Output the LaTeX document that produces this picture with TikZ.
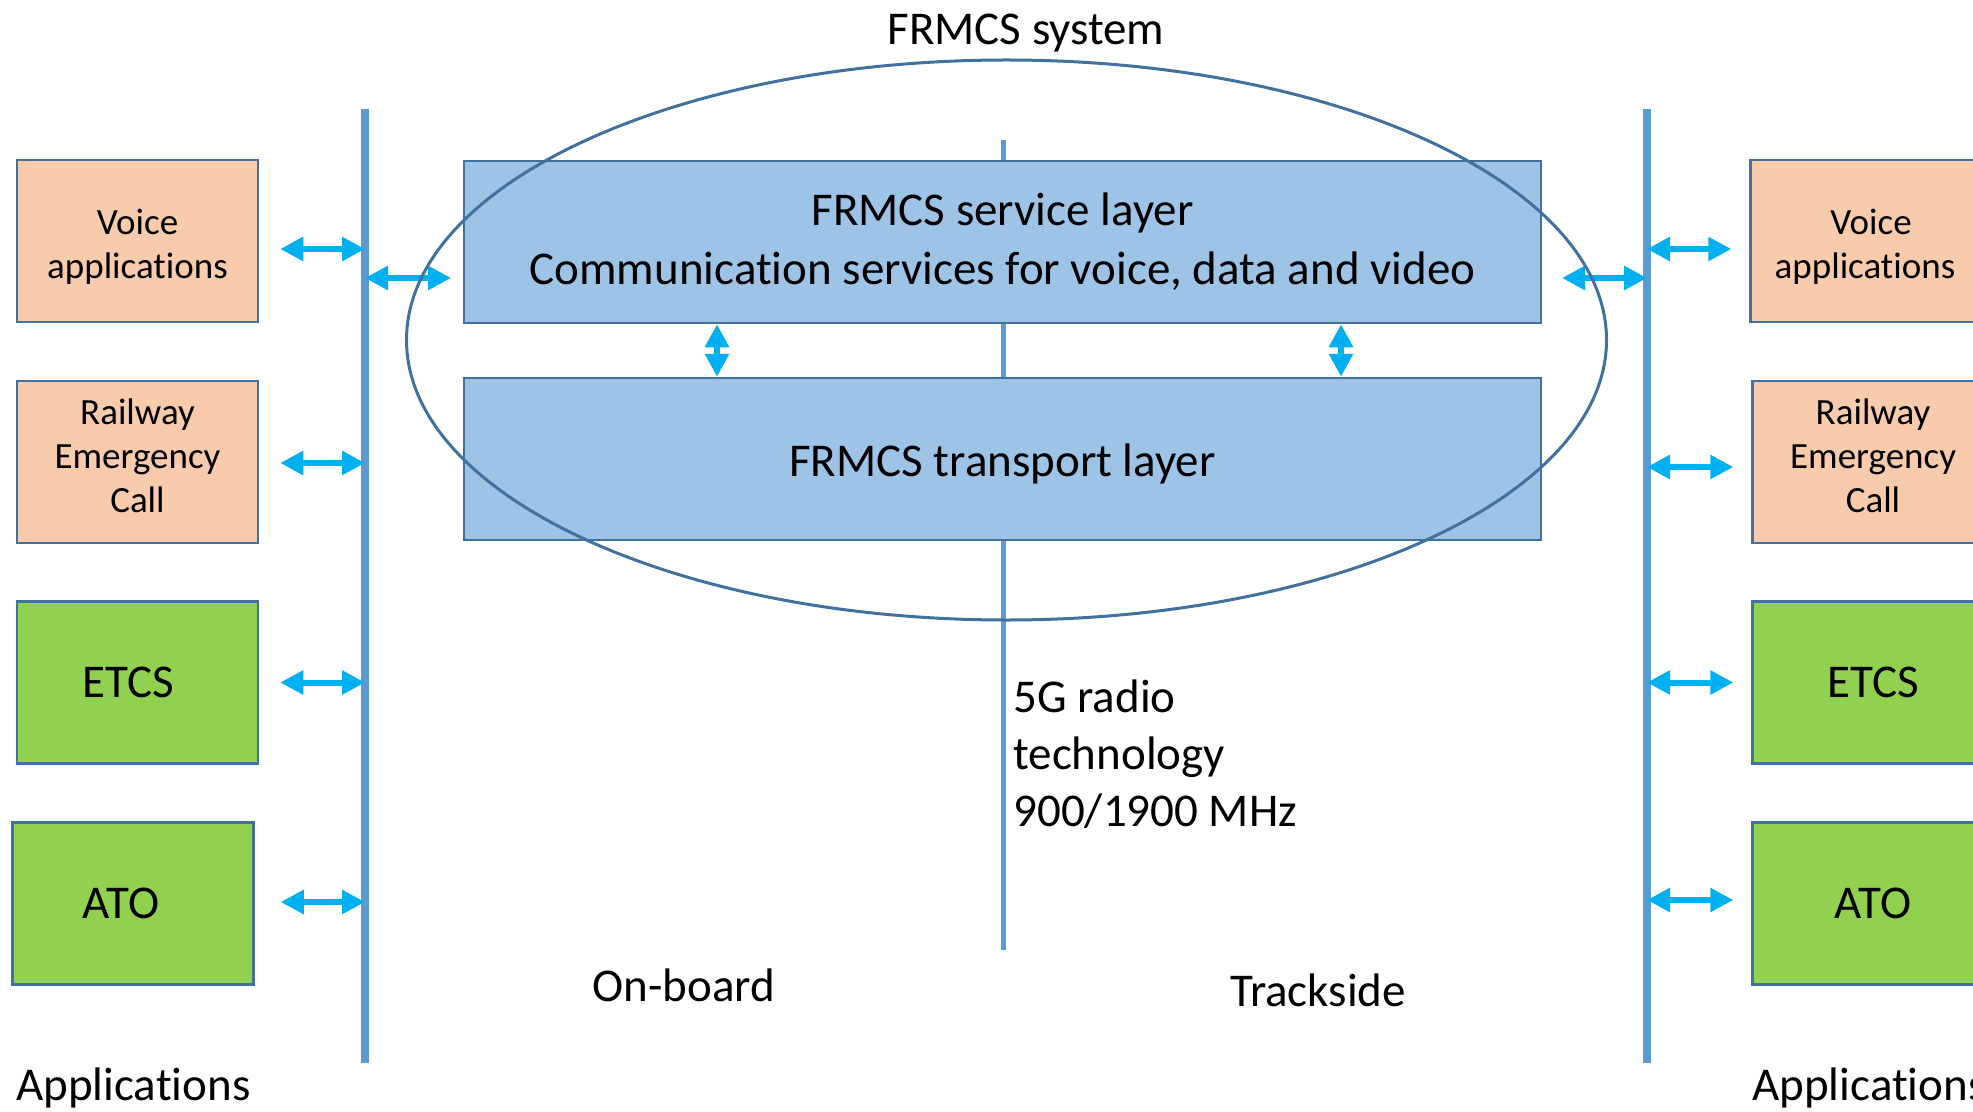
\documentclass[tikz,border=0pt]{standalone}
\usepackage{fontspec}
\setmainfont[Ligatures=NoCommon]{Carlito}
\usetikzlibrary{arrows.meta}
\definecolor{apporange}{HTML}{F8CBAD}
\definecolor{appgreen}{HTML}{92D050}
\definecolor{layerblue}{HTML}{9DC3E6}
\definecolor{edgeblue}{HTML}{41719C}
\definecolor{busblue}{HTML}{5B9BD5}
\definecolor{arrowblue}{HTML}{00B0F0}

\begin{document}
\begin{tikzpicture}[x=0.5pt,y=-0.5pt,
    app/.style={draw=edgeblue,line width=1.25pt,fill=apporange,minimum width=120.5pt,minimum height=81pt,inner sep=0pt,align=center,font=\fontsize{18.5pt}{22pt}\selectfont},
    bigapp/.style={app,fill=appgreen,font=\fontsize{23.5pt}{28pt}\selectfont},
    layer/.style={draw=edgeblue,line width=1.25pt,fill=layerblue,minimum width=538.5pt,minimum height=81pt,inner sep=0pt,align=center,font=\fontsize{23.5pt}{29.5pt}\selectfont},
    bus/.style={draw=busblue,line width=4pt},
    duplex/.style={{Triangle[length=11.5pt,width=11.5pt]}-{Triangle[length=11.5pt,width=11.5pt]},draw=arrowblue,line width=3pt},
    label/.style={inner sep=0pt,font=\fontsize{23.5pt}{28.5pt}\selectfont}]
    \useasboundingbox (0,0) rectangle (1973,1112);
    \clip (0,0) rectangle (1973,1112);
    % bus lines
    \coordinate (busLtop) at (365,109);
    \coordinate (busLbot) at (365,1063);
    \coordinate (busRtop) at (1647,109);
    \coordinate (busRbot) at (1647,1063);
    \coordinate (radiotop) at (1003,140);
    \coordinate (radiobot) at (1003,950);
    \draw [bus] (busLtop) -- (busLbot);
    \draw [bus] (busRtop) -- (busRbot);
    \draw [bus,line width=2.5pt] (radiotop) -- (radiobot);
    % applications
    \node[app] (voiceL) at (137.5,241) {\rule{0pt}{18pt}Voice\\applications};
    \node[app] (railL) at (137.5,462) {Railway\\Emergency\\Call\rule[-6pt]{0pt}{6pt}};
    \node[bigapp] (etcsL) at (137.5,682.5) {ETCS\hspace*{9.5pt}};
    \node[bigapp] (atoL) at (133,903.5) {ATO\hspace*{12pt}};
    \node[app] (voiceR) at (1871,241) {\rule{0pt}{18pt}Voice\\applications\hspace*{6pt}};
    \node[app] (railR) at (1873,462) {Railway\\Emergency\\Call\rule[-6pt]{0pt}{6pt}};
    \node[bigapp] (etcsR) at (1873,682.5) {ETCS};
    \node[bigapp] (atoR) at (1873,903.5) {ATO};
    % FRMCS layers
    \node[layer] (svc) at (1002.5,242) {FRMCS service layer\\Communication services for voice, data and video};
    \node[layer] (tra) at (1002.5,459) {\rule{0pt}{21.5pt}FRMCS transport layer};
    % texts
    \node[label,anchor=base] (sys) at (1026,45) {FRMCS system};
    \node[label,anchor=base west,align=left] (radio) at (1013,826) {5G radio\\technology\\900/1900 MHz};
    \node[label,anchor=base] (onb) at (684,1001) {On-board};
    \node[label,anchor=base] (trk) at (1318,1006) {Trackside};
    \node[label,anchor=base west] (appL) at (16,1100) {Applications};
    \node[label,anchor=base west] (appR) at (1752,1100) {Applications};
    % arrows
    \coordinate (vL) at ([shift={(21,8)}]voiceL.east);
    \coordinate (rL) at ([shift={(21,1)}]railL.east);
    \coordinate (eL) at ([shift={(21,0)}]etcsL.east);
    \coordinate (aL) at ([shift={(26,-1.5)}]atoL.east);
    \coordinate (vR) at ([shift={(-18,8)}]voiceR.west);
    \coordinate (rR) at ([shift={(-18,5)}]railR.west);
    \coordinate (eR) at ([shift={(-18,0)}]etcsR.west);
    \coordinate (aR) at ([shift={(-18,-3.5)}]atoR.west);
    \coordinate (sL) at (451,278);
    \coordinate (sR) at (1562,278);
    \draw [duplex] (vL) -- (vL -| busLtop);
    \draw [duplex] (rL) -- (rL -| busLtop);
    \draw [duplex] (eL) -- (eL -| busLtop);
    \draw [duplex] (aL) -- (aL -| busLtop);
    \draw [duplex] (vR -| busRtop) -- (vR);
    \draw [duplex] (rR -| busRtop) -- (rR);
    \draw [duplex] (eR -| busRtop) -- (eR);
    \draw [duplex] (aR -| busRtop) -- (aR);
    \draw [duplex] (sL -| busLtop) -- (sL);
    \draw [duplex] (sR) -- (sR -| busRtop);
    \draw [duplex] ([shift={(-285.5,0)}]svc.south) -- ([shift={(-285.5,0)}]tra.north);
    \draw [duplex] ([shift={(338.5,0)}]svc.south) -- ([shift={(338.5,0)}]tra.north);
    % FRMCS system
    \draw [edgeblue,line width=1.5pt] (1006.5,340) ellipse [x radius=600, y radius=280];
\end{tikzpicture}
\end{document}
